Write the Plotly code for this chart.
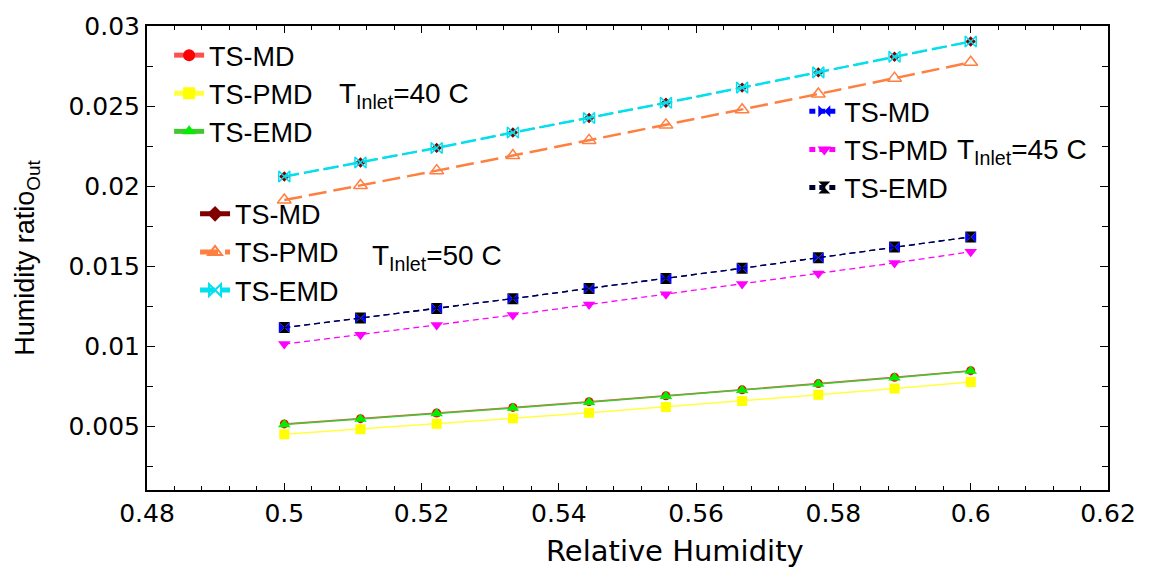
import plotly.graph_objects as go

# ---------------- data ----------------
rh = [0.5, 0.5111, 0.5222, 0.5333, 0.5444, 0.5556, 0.5667, 0.5778, 0.5889, 0.6]

# T_inlet = 40 C
t40_md = [0.00513, 0.00546, 0.00581, 0.00616, 0.00652, 0.00689, 0.00726, 0.00765, 0.00805, 0.00846]
t40_pmd = [0.00448, 0.00480, 0.00514, 0.00548, 0.00583, 0.00619, 0.00656, 0.00695, 0.00734, 0.00775]
t40_emd = [0.00510, 0.00543, 0.00578, 0.00613, 0.00649, 0.00686, 0.00723, 0.00762, 0.00802, 0.00843]

# T_inlet = 45 C
t45_md = [0.01115, 0.01175, 0.01234, 0.01296, 0.01360, 0.01422, 0.01486, 0.01552, 0.01618, 0.01682]
t45_pmd = [0.01012, 0.01070, 0.01132, 0.01194, 0.01259, 0.01323, 0.01387, 0.01453, 0.01519, 0.01589]
t45_emd = [0.01115, 0.01175, 0.01234, 0.01296, 0.01360, 0.01422, 0.01486, 0.01552, 0.01618, 0.01682]

# T_inlet = 50 C
t50_md = [0.02059, 0.02147, 0.02238, 0.02334, 0.02425, 0.02520, 0.02615, 0.02710, 0.02808, 0.02903]
t50_pmd = [0.01912, 0.02003, 0.02096, 0.02190, 0.02285, 0.02382, 0.02477, 0.02575, 0.02674, 0.02773]
t50_emd = [0.02059, 0.02147, 0.02238, 0.02334, 0.02425, 0.02520, 0.02615, 0.02710, 0.02808, 0.02903]

names = ["TS-MD", "TS-PMD", "TS-EMD"]
inlet_labels = ["T<sub>Inlet</sub>=40 C", "T<sub>Inlet</sub>=45 C", "T<sub>Inlet</sub>=50 C"]

x_ticks = [0.48, 0.5, 0.52, 0.54, 0.56, 0.58, 0.6, 0.62]
y_ticks = [0.005, 0.01, 0.015, 0.02, 0.025, 0.03]

# ---------------- figure ----------------
fig = go.Figure()

def add(y, name, legend, lcolor, lwidth, dash, symbol, mcolor, msize, mline=None):
    marker = dict(symbol=symbol, color=mcolor, size=msize)
    if mline:
        marker["line"] = dict(color=mline, width=1.5)
    else:
        marker["line"] = dict(width=0)
    fig.add_trace(go.Scatter(
        x=rh, y=y, name=name, mode="lines+markers",
        line=dict(color=lcolor, width=lwidth, dash=dash),
        marker=marker, legend=legend,
    ))

# 40 C
add(t40_md, names[0], "legend", "#ff5050", 1.5, "solid", "circle", "#ff0000", 9)
add(t40_pmd, names[1], "legend", "#ffff40", 1.5, "solid", "square", "#ffff00", 10)
add(t40_emd, names[2], "legend", "#40c830", 1.5, "solid", "triangle-up", "#00ee00", 11)

# 45 C
add(t45_md, names[0], "legend2", "#0000ff", 1.3, "6px,4px", "bowtie", "#0000ff", 11)
add(t45_pmd, names[1], "legend2", "#ff00ff", 1.3, "6px,4px", "triangle-down", "#ff00ff", 11)
add(t45_emd, names[2], "legend2", "#000030", 1.3, "6px,4px", "hourglass", "#000000", 11)

# 50 C
add(t50_md, names[0], "legend3", "#800000", 1.2, "15px,5px", "diamond", "#800000", 8)
add(t50_pmd, names[1], "legend3", "#ff7f40", 2.5, "18px,7px", "triangle-up-open", "#ff7f40", 12, mline="#ff7f40")
add(t50_emd, names[2], "legend3", "#00e0ee", 2.5, "15px,5px", "bowtie-open", "#00e0ee", 11, mline="#00e0ee")

legend_font = dict(family="Liberation Sans, Arial, sans-serif", size=27, color="black")
common_leg = dict(font=legend_font, bgcolor="rgba(0,0,0,0)", borderwidth=0,
                  itemsizing="constant", xanchor="left", yanchor="top",
                  traceorder="normal")

tick_font = dict(family="DejaVu Sans, sans-serif", size=25, color="black")

fig.update_layout(
    width=1149, height=570,
    margin=dict(l=147, r=41, t=20, b=80),
    paper_bgcolor="white", plot_bgcolor="white",
    showlegend=True,
    legend=dict(x=0.023, y=0.989, **common_leg),
    legend2=dict(x=0.684, y=0.868, **common_leg),
    legend3=dict(x=0.05, y=0.647, **common_leg),
    xaxis=dict(
        range=[0.48, 0.62], tickvals=x_ticks, ticktext=[f"{v:g}" for v in x_ticks],
        showline=True, linecolor="black", linewidth=2, mirror="ticks",
        ticks="inside", ticklen=7, tickwidth=1, tickcolor="black",
        minor=dict(dtick=0.004, tick0=0.48, ticks="inside", ticklen=4, tickcolor="black"),
        showgrid=False, zeroline=False,
        tickfont=tick_font,
        ticklabelstandoff=0,
    ),
    yaxis=dict(
        range=[0.001, 0.03], tickvals=y_ticks, ticktext=[f"{v:g}" for v in y_ticks],
        showline=True, linecolor="black", linewidth=2, mirror="ticks",
        ticks="inside", ticklen=8, tickwidth=1, tickcolor="black",
        minor=dict(dtick=0.0025, tick0=0, ticks="inside", ticklen=6, tickcolor="black"),
        showgrid=False, zeroline=False,
        tickfont=tick_font,
        title=dict(text="Humidity ratio<sub>Out</sub>", standoff=26,
                   font=dict(family="Liberation Sans, Arial, sans-serif", size=27, color="black")),
        ticklabelstandoff=0,
    ),
)

# x-axis title (placed slightly right of centre, as in the original)
fig.add_annotation(x=0.549, y=-0.132, xref="paper", yref="paper", text="Relative Humidity",
                   showarrow=False, xanchor="center", yanchor="middle",
                   font=dict(family="DejaVu Sans, sans-serif", size=29, color="black"))

ann_font = dict(family="Liberation Sans, Arial, sans-serif", size=28, color="black")
ann_pos = [(0.48 + (337 - 147) / 961 * 0.14, 0.03 - (90 - 20) / 16181),
           (0.48 + (955 - 147) / 961 * 0.14, 0.03 - (147 - 20) / 16181),
           (0.48 + (370 - 147) / 961 * 0.14, 0.03 - (254 - 20) / 16181)]
for (ax, ay), txt in zip(ann_pos, inlet_labels):
    fig.add_annotation(x=ax, y=ay, xref="x", yref="y", text=txt, showarrow=False,
                       xanchor="left", yanchor="middle", font=ann_font)

fig.write_html("out.html")
